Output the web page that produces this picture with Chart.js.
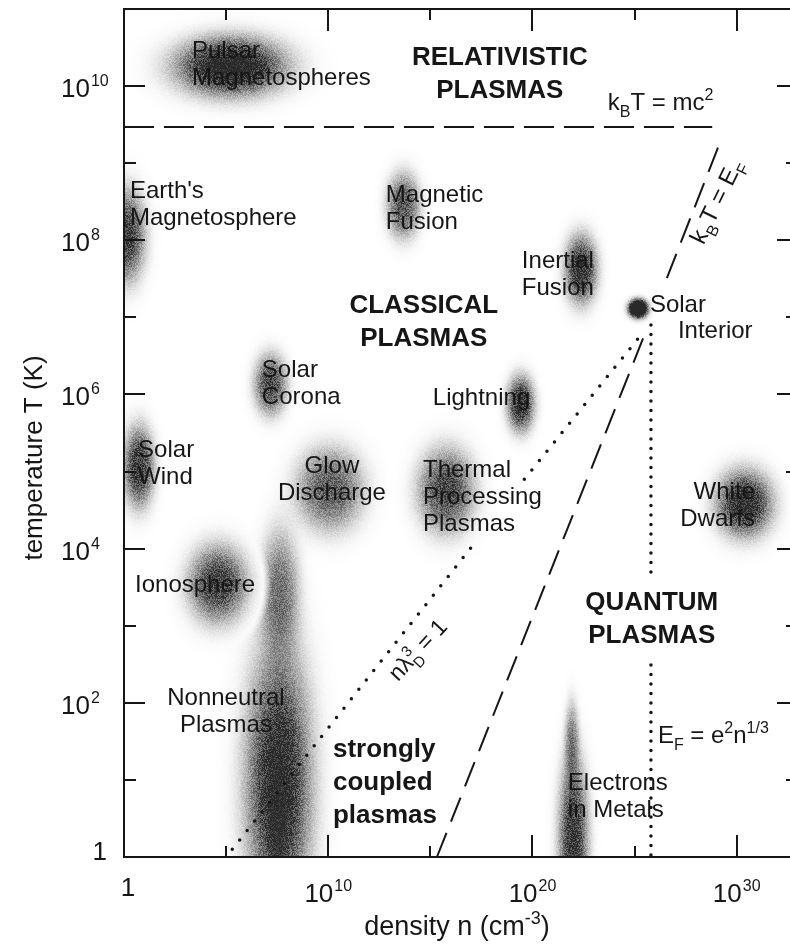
<!DOCTYPE html>
<html>
<head>
<meta charset="utf-8">
<script src="https://cdn.jsdelivr.net/npm/chart.js@4.4.1/dist/chart.umd.min.js"></script>
<style>
html,body{margin:0;padding:0;background:#fff;overflow:hidden}
canvas{display:block}
</style>
</head>
<body>
<canvas id="plasmaChart" width="800" height="949"></canvas>
<script>
// all values are log10: density n (cm^-3) on x, temperature T (K) on y
const densityMajor = [0, 10, 20, 30];
const densityMinor = [5, 15, 25];
const tempMajor = [0, 2, 4, 6, 8, 10];
const tempMinor = [1, 3, 5, 7, 9];

// plasma regions (range of log n, range of log T), drawn in this order
const regionNames = ['Pulsar Magnetospheres', "Earth's Magnetosphere", 'Magnetic Fusion', 'Inertial Fusion', 'Solar Interior',
  'Solar Corona', 'Solar Wind', 'Glow Discharge', 'Nonneutral Plasmas', 'Nonneutral Plasmas core', 'Nonneutral Plasmas tail',
  'Ionosphere', 'Lightning', 'Thermal Processing Plasmas', 'White Dwarfs', 'Electrons in Metals', 'Electrons in Metals top'];
const regionLogN = [[1.9, 8.5], [-1.0, 1.2], [12.7, 14.6], [21.4, 23.3], [24.6, 25.7],
  [6.2, 8.1], [-0.2, 1.6], [8.1, 12.0], [5.6, 9.5], [7.0, 8.0], [6.5, 8.7],
  [2.84, 6.31], [18.6, 20.2], [14.1, 17.4], [28.7, 32.0], [21.1, 22.85], [21.5, 22.3]];
const regionLogT = [[9.79, 10.73], [7.35, 8.78], [7.96, 8.95], [7.1, 8.16], [6.98, 7.26],
  [5.67, 6.6], [4.44, 5.69], [4.14, 5.41], [-1.2, 3.1], [-1.0, 1.6], [2.4, 4.4],
  [2.94, 4.15], [5.45, 6.32], [4.11, 5.41], [4.07, 5.11], [-1.0, 1.5], [0.8, 2.1]];

// boundary lines (null = break in the line)
const relN = [0, 28.8], relT = [9.47, 9.47];                          // kBT = mc^2
const fermiN = [15.32, 25.6, null, 26.58, 29.17], fermiT = [0, 6.85, null, 7.51, 9.26];   // kBT = EF
const debyeN = [5.3, 17.1, null, 19.6, 25.4], debyeT = [0.1, 4.05, null, 4.9, 6.8];       // n lambdaD^3 = 1
const efN = [25.8, 25.8, null, 25.8, 25.8], efT = [6.9, 3.59, null, 2.49, 0];            // EF = e^2 n^1/3

// how dark each region is drawn
const regionShade = [1.15, 0.9, 0.8, 1.0, 2.2, 0.85, 0.95, 0.75, 1.05, 0.6, 0.65, 0.9, 1.0, 0.85, 1.05, 0.95, 0.6];

// text on the plot, anchored in data coordinates
const notes = [
  {t: 'Pulsar\nMagnetospheres', n: 3.33, T: 10.36},
  {t: "Earth's\nMagnetosphere", n: 0.29, T: 8.55},
  {t: 'Magnetic\nFusion', n: 12.82, T: 8.5},
  {t: 'Inertial\nFusion', n: 19.48, T: 7.64},
  {t: 'Solar', n: 25.75, T: 7.07},
  {t: 'Interior', n: 27.12, T: 6.73},
  {t: 'Solar\nCorona', n: 6.75, T: 6.23},
  {t: 'Solar\nWind', n: 0.69, T: 5.19},
  {t: 'Glow\nDischarge', n: 10.18, T: 4.98, align: 'center'},
  {t: 'Ionosphere', n: 0.54, T: 3.44},
  {t: 'Nonneutral\nPlasmas', n: 4.99, T: 1.97, align: 'center'},
  {t: 'Lightning', n: 15.12, T: 5.86},
  {t: 'Thermal\nProcessing\nPlasmas', n: 14.64, T: 4.93},
  {t: 'White\nDwarfs', n: 30.89, T: 4.64, align: 'right'},
  {t: 'Electrons\nin Metals', n: 21.73, T: 0.87},
  {t: 'RELATIVISTIC\nPLASMAS', n: 18.4, T: 10.27, align: 'center', bold: true},
  {t: 'CLASSICAL\nPLASMAS', n: 14.68, T: 7.06, align: 'center', bold: true},
  {t: 'QUANTUM\nPLASMAS', n: 25.84, T: 3.2, align: 'center', bold: true},
  {t: 'strongly\ncoupled\nplasmas', n: 10.23, T: 1.3, bold: true},
  {t: 'k_{B}T = mc^{2}', n: 23.69, T: 9.69},
  {t: 'E_{F} = e^{2}n^{1/3}', n: 26.14, T: 1.48},
  {t: 'k_{B}T = E_{F}', n: 29.35, T: 8.46, align: 'center', rot: -64},
  {t: 'nλ_{D}^{3} = 1', n: 14.65, T: 2.62, align: 'center', rot: -47, size: 23}
];

const INK = '#161616';
const FONT = '"Liberation Sans", Arial, Helvetica, sans-serif';

function richParts(s){const out=[];const re=/([_^])\{([^}]*)\}|([^_^]+)/g;let m;while((m=re.exec(s))){if(m[3])out.push([m[3],0]);else out.push([m[2],m[1]==='_'?1:2]);}return out;}
function richText(ctx,s,x,y,size,align,bold){
  const parts=richParts(s);const f=sz=>`${bold?'bold ':''}${sz}px ${FONT}`;
  const place=[];let cx=0,subStart=null,subEnd=0;
  for(const [t,mode] of parts){
    ctx.font=f(mode?Math.round(size*0.66):size);const w=ctx.measureText(t).width;
    if(mode===2&&subStart!==null){place.push([t,mode,subStart]);cx=Math.max(subEnd,subStart+w);subStart=null;continue;}
    if(mode===1){subStart=cx;subEnd=cx+w;}else subStart=null;
    place.push([t,mode,cx]);cx+=w;
  }
  const x0=align==='center'?x-cx/2:align==='right'?x-cx:x;
  ctx.textAlign='left';ctx.textBaseline='alphabetic';
  for(const [t,mode,px] of place){ctx.font=f(mode?Math.round(size*0.66):size);ctx.fillText(t,x0+px,y+(mode===1?size*0.3:mode===2?-size*0.42:0));}
}

function hash(px,py){const v=Math.sin(px*12.9898+py*78.233)*43758.5453;return v-Math.floor(v);}

function drawBlobs(chart){
  const {ctx,chartArea:a,scales:{x,y}}=chart;const W=chart.canvas.width,H=chart.canvas.height;
  const acc=new Float32Array(W*H);
  const box=(cx,cy,rx,ry,e)=>[Math.max(Math.ceil(a.left),Math.floor(cx-rx*e)),Math.min(Math.floor(a.right),Math.ceil(cx+rx*e)),Math.max(Math.ceil(a.top),Math.floor(cy-ry*e)),Math.min(Math.floor(a.bottom),Math.ceil(cy+ry*e))];
  regionNames.forEach((name,i)=>{
    const x0=x.getPixelForValue(regionLogN[i][0]),x1=x.getPixelForValue(regionLogN[i][1]);
    const y0=y.getPixelForValue(regionLogT[i][1]),y1=y.getPixelForValue(regionLogT[i][0]);
    const cx=(x0+x1)/2,cy=(y0+y1)/2,rx=(x1-x0)/2,ry=(y1-y0)/2;
    if(name==='Ionosphere'){ // white clearing round the ionosphere
      const [L,R,T,B]=box(cx,cy,rx,ry,1.7);
      for(let py=T;py<B;py++)for(let px=L;px<R;px++){const d=Math.hypot((px-cx)/rx,(py-cy)/ry);if(d<1.5){const k=py*W+px;acc[k]*=d<1.28?0:(d-1.28)/0.22;}}
    }
    const [L,R,T,B]=box(cx,cy,rx,ry,1.7);
    for(let py=T;py<B;py++)for(let px=L;px<R;px++){
      const d2=((px-cx)/rx)**2+((py-cy)/ry)**2;if(d2>2.89)continue;
      let v=regionShade[i]*Math.exp(-1.8*Math.pow(d2,1.3))*(0.72+0.56*hash(px,py));v=Math.min(1,v);
      const k=py*W+px;acc[k]=1-(1-acc[k])*(1-v);
    }
  });
  const img=new ImageData(W,H);
  for(let k=0;k<W*H;k++){img.data[k*4]=28;img.data[k*4+1]=28;img.data[k*4+2]=28;img.data[k*4+3]=Math.round(acc[k]*240);}
  const off=document.createElement('canvas');off.width=W;off.height=H;off.getContext('2d').putImageData(img,0,0);
  ctx.drawImage(off,0,0);
}

function drawNotes(chart){
  const {ctx,scales:{x,y}}=chart;ctx.save();ctx.fillStyle=INK;
  for(const nt of notes){
    const size=nt.size||(nt.bold?26:24),lh=nt.bold?33:27;
    const px=x.getPixelForValue(nt.n),py=y.getPixelForValue(nt.T);
    if(nt.rot){ctx.save();ctx.translate(px,py);ctx.rotate(nt.rot*Math.PI/180);richText(ctx,nt.t,0,0,size,'center',nt.bold);ctx.restore();continue;}
    nt.t.split('\n').forEach((line,j)=>richText(ctx,line,px,py+j*lh,size,nt.align||'left',nt.bold));
  }
  ctx.restore();
}

function powLabel(ctx,v,x,y,align){
  ctx.font=`26px ${FONT}`;
  if(v===0){ctx.textAlign=align==='right'?'right':'center';ctx.fillText('1',x,y);return;}
  const e=String(v);const wb=ctx.measureText('10').width;ctx.font=`16px ${FONT}`;const we=ctx.measureText(e).width;
  const x0=align==='left'?x:x-(wb+we+1)/2;
  ctx.textAlign='left';ctx.font=`26px ${FONT}`;ctx.fillText('10',x0,y);ctx.font=`16px ${FONT}`;ctx.fillText(e,x0+wb+1,y-11);
}

function drawFrame(chart){
  const {ctx,chartArea:a,scales:{x,y}}=chart;ctx.save();
  ctx.strokeStyle=INK;ctx.fillStyle=INK;ctx.lineWidth=2;
  ctx.strokeRect(a.left,a.top,a.right-a.left,a.bottom-a.top);
  ctx.beginPath();
  for(const t of x.ticks){const px=Math.round(x.getPixelForValue(t.value));const l=t.major?22:11;
    ctx.moveTo(px,a.bottom);ctx.lineTo(px,a.bottom-l);ctx.moveTo(px,a.top);ctx.lineTo(px,a.top+l);}
  for(const t of y.ticks){const py=Math.round(y.getPixelForValue(t.value));const l=t.major?21:12;
    ctx.moveTo(a.left,py);ctx.lineTo(a.left+l,py);ctx.moveTo(a.right,py);ctx.lineTo(a.right-l,py);}
  ctx.stroke();
  ctx.textBaseline='alphabetic';
  for(const t of x.ticks){if(!t.major)continue;const px=x.getPixelForValue(t.value);powLabel(ctx,t.value,t.value===0?px+4:px,t.value===0?896:902,'center');}
  for(const t of y.ticks){if(!t.major)continue;const py=y.getPixelForValue(t.value);
    if(t.value===0)powLabel(ctx,0,107,py+3,'right');else powLabel(ctx,t.value,61,py+11,'left');}
  // axis titles
  richText(ctx,'density n (cm^{-3})',457,935,27,'center',false);
  ctx.save();ctx.translate(42,458);ctx.rotate(-Math.PI/2);ctx.font=`26px ${FONT}`;ctx.textAlign='center';ctx.fillText('temperature T (K)',0,0);ctx.restore();
  ctx.restore();
}

const plasmaPlugin={id:'plasma',
  beforeDatasetsDraw(chart){drawBlobs(chart);},
  afterDatasetsDraw(chart){drawNotes(chart);drawFrame(chart);}
};

const toPts=(ns,ts)=>ns.map((n,i)=>({x:n,y:ts[i]}));
const lineBase={showLine:true,pointRadius:0,borderColor:INK,fill:false,spanGaps:false,tension:0};

new Chart(document.getElementById('plasmaChart'),{
  type:'scatter',
  data:{datasets:[
    {...lineBase,label:'kBT = mc2',data:toPts(relN,relT),borderWidth:2,borderDash:[30,10]},
    {...lineBase,label:'kBT = EF',data:toPts(fermiN,fermiT),borderWidth:2,borderDash:[26,12]},
    {...lineBase,label:'n lambdaD3 = 1',data:toPts(debyeN,debyeT),borderWidth:3.5,borderDash:[0,12],borderCapStyle:'round'},
    {...lineBase,label:'EF = e2 n1/3',data:toPts(efN,efT),borderWidth:3.5,borderDash:[0,9.5],borderCapStyle:'round'}
  ]},
  options:{responsive:false,animation:false,devicePixelRatio:1,
    layout:{padding:{left:0,top:9,right:2,bottom:0}},
    plugins:{legend:{display:false},tooltip:{enabled:false}},
    scales:{
      x:{type:'linear',min:0,max:33,grid:{display:false,drawTicks:false},border:{display:false},ticks:{display:false},
        afterBuildTicks:s=>{s.ticks=[...densityMajor.map(v=>({value:v,major:true})),...densityMinor.map(v=>({value:v,major:false}))];},
        afterFit:s=>{s.height=92;}},
      y:{type:'linear',min:0,max:11,grid:{display:false,drawTicks:false},border:{display:false},ticks:{display:false},
        afterBuildTicks:s=>{s.ticks=[...tempMajor.map(v=>({value:v,major:true})),...tempMinor.map(v=>({value:v,major:false}))];},
        afterFit:s=>{s.width=124;}}
    }},
  plugins:[plasmaPlugin]
});
</script>
</body>
</html>
